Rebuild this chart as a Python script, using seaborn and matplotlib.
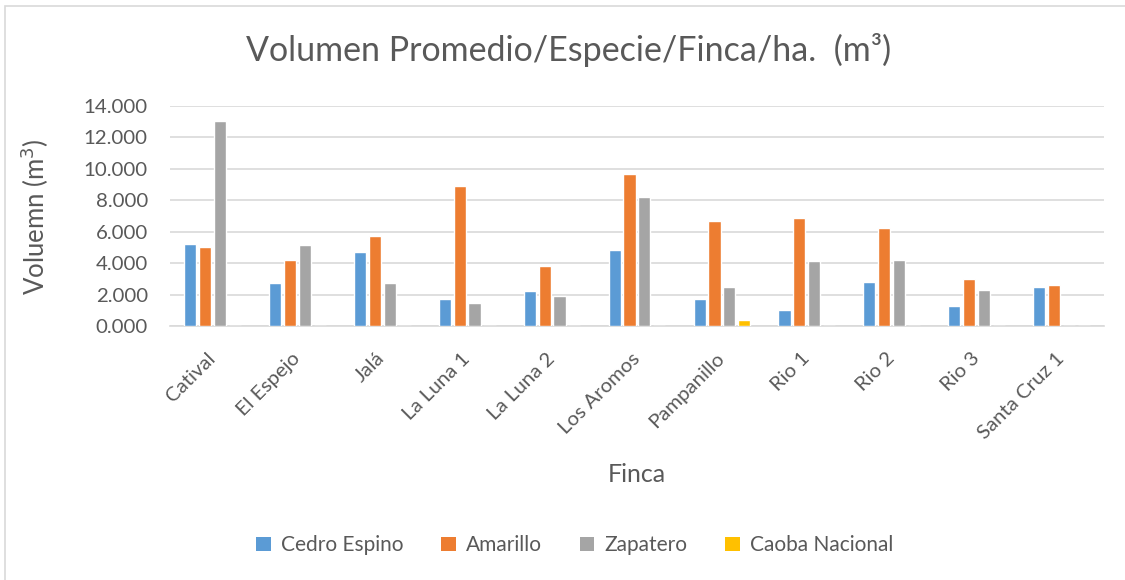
import matplotlib
matplotlib.use("Agg")
import matplotlib.pyplot as plt
import matplotlib.transforms as mtransforms
import seaborn as sns
import pandas as pd
from matplotlib.patches import Rectangle, Patch

fincas = ["Catival", "El Espejo", "Jalá", "La Luna 1", "La Luna 2", "Los Aromos",
          "Pampanillo", "Rio 1", "Rio 2", "Rio 3", "Santa Cruz 1"]
especies = ["Cedro Espino", "Amarillo", "Zapatero", "Caoba Nacional"]
cedro_espino = [5.24, 2.71, 4.74, 1.69, 2.20, 4.82, 1.69, 0.99, 2.79, 1.27, 2.49]
amarillo = [5.05, 4.23, 5.75, 8.88, 3.81, 9.70, 6.66, 6.85, 6.26, 3.00, 2.60]
zapatero = [13.04, 5.14, 2.71, 1.48, 1.88, 8.18, 2.49, 4.12, 4.23, 2.28, 0.0]
caoba_nacional = [0.0, 0.0, 0.0, 0.0, 0.0, 0.0, 0.38, 0.0, 0.0, 0.0, 0.0]
colores = ["#5B9BD5", "#ED7D31", "#A5A5A5", "#FFC000"]
yticks = [0, 2, 4, 6, 8, 10, 12, 14]
ytick_labels = ["0.000", "2.000", "4.000", "6.000", "8.000", "10.000", "12.000", "14.000"]

rows = []
for esp, vals in zip(especies, [cedro_espino, amarillo, zapatero, caoba_nacional]):
    for f, v in zip(fincas, vals):
        rows.append({"Finca": f, "Especie": esp, "Volumen": v})
df = pd.DataFrame(rows)

sns.set_theme(style="white")
plt.rcParams["font.family"] = ["Lato", "DejaVu Sans"]
txt = "#595959"

fig = plt.figure(figsize=(11.25, 5.8), dpi=100)
ax = fig.add_axes([0.1511, 0.4379, 0.8302, 0.3793])

sns.barplot(data=df, x="Finca", y="Volumen", hue="Especie", order=fincas,
            hue_order=especies, palette=colores, width=0.7, gap=0.18,
            saturation=1, ax=ax, legend=False, zorder=3)

ax.set_ylim(0, 14)
ax.set_yticks(yticks)
ax.set_yticklabels(ytick_labels)
ax.yaxis.grid(True, color="#D9D9D9", linewidth=1.2, zorder=0)
ax.set_axisbelow(True)
for s in ["top", "right", "left"]:
    ax.spines[s].set_visible(False)
ax.spines["bottom"].set_color("#D9D9D9")
ax.spines["bottom"].set_linewidth(1.2)
ax.tick_params(axis="both", length=0, labelsize=14.7, colors=txt)
ax.tick_params(axis="y", pad=16)
ax.tick_params(axis="x", pad=17)
ax.set_xlim(-0.5, len(fincas) - 0.5)
shift = mtransforms.ScaledTranslation(-6 / 100, 0, fig.dpi_scale_trans)
for lab in ax.get_xticklabels():
    lab.set_rotation(45)
    lab.set_ha("right")
    lab.set_va("top")
    lab.set_rotation_mode("anchor")
    lab.set_transform(lab.get_transform() + shift)

ax.set_xlabel("Finca", fontsize=18, color=txt)
ax.xaxis.set_label_coords(0.5, -0.673)
ax.xaxis.label.set_va("center")
ax.set_ylabel("Voluemn (m$^3$)", fontsize=18.5, color=txt)
ax.yaxis.set_label_coords(-0.1445, 0.495)
ax.yaxis.label.set_va("center")

fig.text(0.505, 0.913, "Volumen Promedio/Especie/Finca/ha.  (m³)", ha="center", va="center",
         fontsize=24.5, color=txt)

handles = [Patch(facecolor=c, edgecolor="none") for c in colores]
fig.legend(handles, especies, loc="center", bbox_to_anchor=(0.511, 0.06), ncol=4,
           frameon=False, fontsize=15, handlelength=0.7, handleheight=0.7,
           columnspacing=1.8, handletextpad=0.5, labelcolor=txt)

fig.patches.append(Rectangle((5 / 1125, -0.05), 1.2, 1 - 6 / 580 + 0.05, transform=fig.transFigure,
                             fill=False, edgecolor="#D9D9D9", linewidth=1.2))

fig.savefig("out.png", dpi=100)
